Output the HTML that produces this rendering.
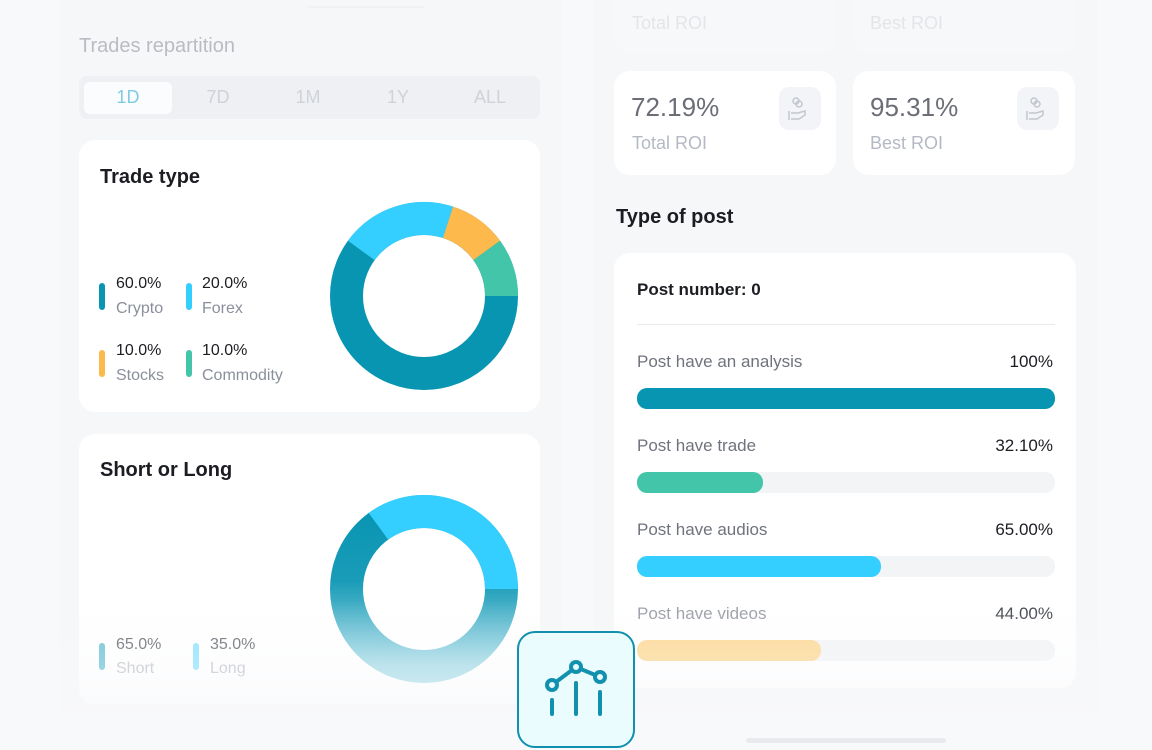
<!DOCTYPE html>
<html><head><meta charset="utf-8"><style>
*{margin:0;padding:0;box-sizing:border-box}
body{width:1152px;height:750px;overflow:hidden;background:#f8f9fb;font-family:"Liberation Sans",sans-serif;position:relative}
.a{position:absolute}
.card{position:absolute;background:#fff;border-radius:16px}
.t{position:absolute;white-space:nowrap}
</style></head><body>
<div class="a" style="left:60px;top:0;width:502px;height:750px;background:#f6f7f9"></div>
<div class="a" style="left:594px;top:0;width:504px;height:750px;background:#f6f7f9"></div>
<div class="a" style="left:308px;top:6px;width:116px;height:2px;background:#eef2f4"></div>
<div class="t" style="left:79px;top:35px;font-size:20px;color:#b9bcc2">Trades repartition</div>
<div class="a" style="left:79px;top:76px;width:461px;height:43px;background:#eef0f3;border-radius:8px"></div>
<div class="a" style="left:84px;top:82px;width:88px;height:32px;background:#fbfcfd;border-radius:6px"></div>
<div class="t" style="left:84px;top:87px;width:88px;text-align:center;font-size:18px;color:#7fcbe0">1D</div>
<div class="t" style="left:188px;top:87px;width:60px;text-align:center;font-size:18px;color:#cfd2d7">7D</div>
<div class="t" style="left:278px;top:87px;width:60px;text-align:center;font-size:18px;color:#cfd2d7">1M</div>
<div class="t" style="left:368px;top:87px;width:60px;text-align:center;font-size:18px;color:#cfd2d7">1Y</div>
<div class="t" style="left:460px;top:87px;width:60px;text-align:center;font-size:18px;color:#cfd2d7">ALL</div>

<div class="card" style="left:79px;top:140px;width:461px;height:272px"></div>
<div class="t" style="left:100px;top:166px;font-size:20px;font-weight:bold;color:#1c1d22">Trade type</div>
<div class="a" style="left:99px;top:283px;width:6px;height:27px;border-radius:3px;background:#0895b2"></div>
<div class="t" style="left:116px;top:275px;font-size:16px;color:#1c1d22">60.0%</div>
<div class="t" style="left:116px;top:300px;font-size:16px;color:#8a8f9c">Crypto</div>
<div class="a" style="left:186px;top:283px;width:6px;height:27px;border-radius:3px;background:#35cfff"></div>
<div class="t" style="left:202px;top:275px;font-size:16px;color:#1c1d22">20.0%</div>
<div class="t" style="left:202px;top:300px;font-size:16px;color:#8a8f9c">Forex</div>
<div class="a" style="left:99px;top:350px;width:6px;height:27px;border-radius:3px;background:#fdb94c"></div>
<div class="t" style="left:116px;top:342px;font-size:16px;color:#1c1d22">10.0%</div>
<div class="t" style="left:116px;top:367px;font-size:16px;color:#8a8f9c">Stocks</div>
<div class="a" style="left:186px;top:350px;width:6px;height:27px;border-radius:3px;background:#43c5a9"></div>
<div class="t" style="left:202px;top:342px;font-size:16px;color:#1c1d22">10.0%</div>
<div class="t" style="left:202px;top:367px;font-size:16px;color:#8a8f9c">Commodity</div>
<svg class="a" style="left:0;top:0" width="1152" height="750">
<defs><linearGradient id="g" x1="0" y1="0" x2="0" y2="1"><stop offset="0" stop-color="#0895b2"/><stop offset="0.45" stop-color="#1a9cb8"/><stop offset="1" stop-color="#a6dbe7"/></linearGradient></defs>
<g fill="none" stroke-width="33">
<circle cx="424" cy="296" r="77.5" stroke="#0895b2"/>
<path d="M 424 296 m -62.7 -45.55 A 77.5 77.5 0 0 1 447.95 222.29" stroke="#35cfff"/>
<path d="M 447.95 222.29 A 77.5 77.5 0 0 1 486.7 250.45" stroke="#fdb94c"/>
<path d="M 486.7 250.45 A 77.5 77.5 0 0 1 501.5 296" stroke="#43c5a9"/>
</g>
</svg>

<div class="card" style="left:79px;top:434px;width:461px;height:270px"></div>
<div class="t" style="left:100px;top:459px;font-size:20px;font-weight:bold;color:#1c1d22">Short or Long</div>
<svg class="a" style="left:0;top:0" width="1152" height="750">
<g fill="none" stroke-width="33">
<circle cx="424" cy="589" r="77.5" stroke="url(#g)"/>
<path d="M 501.5 589 A 77.5 77.5 0 0 0 378.45 526.3" stroke="#35cfff"/>
</g>
</svg>
<div class="a" style="left:99px;top:643px;width:6px;height:27px;border-radius:3px;background:#6cc3d6"></div>
<div class="t" style="left:116px;top:636px;font-size:16px;color:#65686f">65.0%</div>
<div class="t" style="left:116px;top:660px;font-size:16px;color:#c0c3ca">Short</div>
<div class="a" style="left:193px;top:643px;width:6px;height:27px;border-radius:3px;background:#8fe3ff"></div>
<div class="t" style="left:210px;top:636px;font-size:16px;color:#65686f">35.0%</div>
<div class="t" style="left:210px;top:660px;font-size:16px;color:#c0c3ca">Long</div>

<div class="card" style="left:614px;top:-20px;width:222px;height:74px;background:#f7f8fa"></div>
<div class="card" style="left:853px;top:-20px;width:222px;height:74px;background:#f7f8fa"></div>
<div class="t" style="left:632px;top:13px;font-size:18px;color:#e3e5e8">Total ROI</div>
<div class="t" style="left:870px;top:13px;font-size:18px;color:#e3e5e8">Best ROI</div>
<div class="card" style="left:614px;top:71px;width:222px;height:104px"></div>
<div class="card" style="left:853px;top:71px;width:222px;height:104px"></div>
<div class="t" style="left:631px;top:92px;font-size:26px;color:#6b6e76">72.19%</div>
<div class="t" style="left:632px;top:133px;font-size:18px;color:#b4b9c3">Total ROI</div>
<div class="t" style="left:870px;top:92px;font-size:26px;color:#6b6e76">95.31%</div>
<div class="t" style="left:870px;top:133px;font-size:18px;color:#b4b9c3">Best ROI</div>
<div class="a" style="left:779px;top:87px;width:42px;height:43px;border-radius:10px;background:#f3f4f7"></div>
<div class="a" style="left:1017px;top:87px;width:42px;height:43px;border-radius:10px;background:#f3f4f7"></div>
<svg class="a" style="left:0;top:0" width="1152" height="750"><g fill="none" stroke="#c3c7cf" stroke-width="1.5">
<circle cx="796" cy="101" r="3"/><circle cx="799" cy="104" r="3"/><path d="M789 111 v9 M791 113 h7 l7 -2 v4 l-6 4 h-8"/>
<circle cx="1034" cy="101" r="3"/><circle cx="1037" cy="104" r="3"/><path d="M1027 111 v9 M1029 113 h7 l7 -2 v4 l-6 4 h-8"/>
</g></svg>

<div class="t" style="left:616px;top:206px;font-size:20px;font-weight:bold;color:#1c1d22">Type of post</div>
<div class="card" style="left:614px;top:253px;width:462px;height:435px"></div>
<div class="t" style="left:637px;top:280px;font-size:17px;font-weight:bold;color:#1c1d22">Post number: 0</div>
<div class="a" style="left:637px;top:324px;width:418px;height:1px;background:#e8eaee"></div>
<div class="t" style="left:637px;top:352px;font-size:17px;color:#6f737c">Post have an analysis</div>
<div class="t" style="left:955px;top:352px;width:98px;text-align:right;font-size:17px;color:#1c1d22">100%</div>
<div class="a" style="left:637px;top:388px;width:418px;height:21px;border-radius:10px;background:#0895b2"></div>
<div class="t" style="left:637px;top:436px;font-size:17px;color:#6f737c">Post have trade</div>
<div class="t" style="left:955px;top:436px;width:98px;text-align:right;font-size:17px;color:#1c1d22">32.10%</div>
<div class="a" style="left:637px;top:472px;width:418px;height:21px;border-radius:10px;background:#f3f4f6"></div>
<div class="a" style="left:637px;top:472px;width:126px;height:21px;border-radius:10px;background:#43c5a9"></div>
<div class="t" style="left:637px;top:520px;font-size:17px;color:#6f737c">Post have audios</div>
<div class="t" style="left:955px;top:520px;width:98px;text-align:right;font-size:17px;color:#1c1d22">65.00%</div>
<div class="a" style="left:637px;top:556px;width:418px;height:21px;border-radius:10px;background:#f3f4f6"></div>
<div class="a" style="left:637px;top:556px;width:244px;height:21px;border-radius:10px;background:#35cfff"></div>
<div class="t" style="left:637px;top:604px;font-size:17px;color:#9a9ea6">Post have videos</div>
<div class="t" style="left:955px;top:604px;width:98px;text-align:right;font-size:17px;color:#45484f">44.00%</div>
<div class="a" style="left:637px;top:640px;width:418px;height:21px;border-radius:10px;background:#f3f4f6"></div>
<div class="a" style="left:637px;top:640px;width:184px;height:21px;border-radius:10px;background:#fdd894"></div>

<div class="a" style="left:0;top:600px;width:1152px;height:150px;background:linear-gradient(rgba(248,249,251,0),rgba(248,249,251,0.35) 50%,rgba(248,249,251,0.9) 80%,#f8f9fb)"></div>
<div class="a" style="left:746px;top:738px;width:200px;height:5px;border-radius:3px;background:#e8eaed"></div>
<div class="a" style="left:517px;top:631px;width:118px;height:117px;border:2.5px solid #1191ae;border-radius:18px;background:#ebfcff"></div>
<svg class="a" style="left:0;top:0" width="1152" height="750"><g fill="none" stroke="#1191ae" stroke-width="4" stroke-linecap="round">
<path d="M552 685 L576 667 L600 677"/>
<circle cx="552" cy="685" r="5" fill="#ebfcff"/><circle cx="576" cy="667" r="5" fill="#ebfcff"/><circle cx="600" cy="677" r="5" fill="#ebfcff"/>
<path d="M552 700 v14 M576 683 v31 M600 692 v22"/>
</g></svg>
</body></html>
